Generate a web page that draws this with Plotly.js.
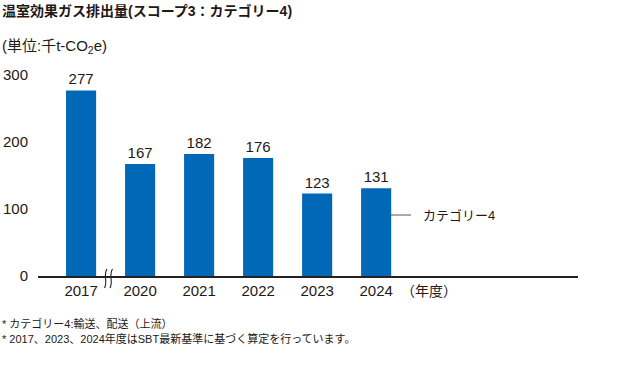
<!DOCTYPE html>
<html><head><meta charset="utf-8">
<script src="https://cdn.plot.ly/plotly-3.0.1.min.js"></script>
<style>body{margin:0;background:#fff}#c{width:620px;height:380px}</style>
</head><body><div id="c"></div>
<script>
const years = ['2017','2020','2021','2022','2023','2024'];
const values = [277,167,182,176,123,131];
const seriesName = 'カテゴリー4';
const yTicks = [0,100,200,300];

const F = '"Liberation Sans", Arial, "Noto Sans CJK JP", sans-serif';
const C = '#231815';
const BAR = '#0068b7';

const trace = {
  type:'bar', x:years, y:values, name:seriesName,
  marker:{color:BAR}, width:0.51,
  text:values.map(String), textposition:'outside', cliponaxis:false,
  textfont:{family:F,size:15,color:C}, hoverinfo:'skip'
};

// pixel helpers for decoration only (plot area: x 38..578, y 75..276)
const px = v => (v-38)/540, py = v => (276-v)/201;
function wave(x0){
  return 'M '+px(x0+2)+' '+py(269)+' C '+px(x0-2)+' '+py(275)+', '+px(x0+3)+' '+py(282)+', '+px(x0-0.5)+' '+py(288);
}

const layout = {
  width:620, height:380, margin:{l:38,r:42,t:75,b:104},
  paper_bgcolor:'#fff', plot_bgcolor:'#fff', showlegend:false,
  font:{family:F,color:C,size:15},
  xaxis:{type:'category', range:[-0.73,8.42], showline:true, linecolor:'#222', linewidth:1.5,
    showgrid:false, zeroline:false, ticks:'', tickfont:{size:15,color:C}, ticklabelstandoff:0, fixedrange:true},
  yaxis:{range:[0,300], tickvals:yTicks, showgrid:false, zeroline:false, showline:false, ticks:'',
    tickfont:{size:15,color:C}, ticklabelstandoff:9, fixedrange:true},
  shapes:[
    {type:'path', xref:'paper', yref:'paper', path:wave(105), line:{color:'#222',width:1.1}},
    {type:'path', xref:'paper', yref:'paper', path:wave(110.5), line:{color:'#222',width:1.1}},
    {type:'line', xref:'x', yref:'y', x0:5.24, x1:5.59, y0:91, y1:91, line:{color:'#555',width:1}}
  ],
  annotations:[
    {xref:'paper', yref:'paper', x:px(0), y:py(11), xanchor:'left', yanchor:'middle', showarrow:false,
     text:'<b>温室効果ガス排出量(スコープ3：カテゴリー4)</b>', font:{size:14,color:C}},
    {xref:'paper', yref:'paper', x:px(0), y:py(46), xanchor:'left', yanchor:'middle', showarrow:false,
     text:'(単位:千t-CO<sub>2</sub>e)', font:{size:15,color:C}},
    {xref:'x', yref:'y', x:5.76, y:91, xanchor:'left', yanchor:'middle', showarrow:false,
     text:seriesName, font:{size:13,color:C}},
    {xref:'x', yref:'paper', x:5.9, y:py(291), xanchor:'center', yanchor:'middle', showarrow:false,
     text:'（年度）', font:{size:14,color:C}},
    {xref:'paper', yref:'paper', x:px(0), y:py(323), xanchor:'left', yanchor:'middle', showarrow:false,
     text:'* カテゴリー4:輸送、配送（上流）', font:{size:11,color:C}},
    {xref:'paper', yref:'paper', x:px(0), y:py(338), xanchor:'left', yanchor:'middle', showarrow:false,
     text:'* 2017、2023、2024年度はSBT最新基準に基づく算定を行っています。', font:{size:11,color:C}}
  ]
};
Plotly.newPlot('c',[trace],layout,{displayModeBar:false,staticPlot:true});
</script></body></html>
